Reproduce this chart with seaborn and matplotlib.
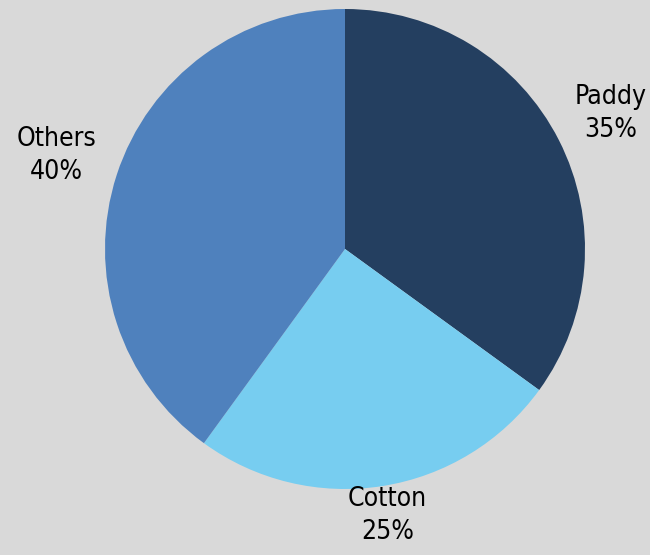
import numpy as np
import matplotlib
matplotlib.use("Agg")
import matplotlib.pyplot as plt
import seaborn as sns
from matplotlib import font_manager

# --- data ---
categories = ["Paddy", "Cotton", "Others"]
shares = [35, 25, 40]
colors = ["#243f60", "#77cdf0", "#4f81bd"]
label_dist = [1.24, 1.125, 1.265]

sns.set_theme(style="white")
names = {f.name for f in font_manager.fontManager.ttflist}
fam = ["Liberation Sans Narrow", "DejaVu Sans"] if "Liberation Sans Narrow" in names else ["DejaVu Sans"]
plt.rcParams["font.family"] = fam

bg = "#d9d9d9"
fig = plt.figure(figsize=(6.5, 5.55), dpi=100, facecolor=bg)
ax = fig.add_axes([0, 0, 1, 1])
ax.set_facecolor(bg)

labels = [f"{c}\n{v}%" for c, v in zip(categories, shares)]
wedges, texts = ax.pie(shares, colors=colors, startangle=90, counterclock=False,
                       labels=labels, labeldistance=1.0, radius=1.0,
                       wedgeprops=dict(linewidth=0),
                       textprops=dict(fontsize=19, color="black", ha="center",
                                      va="center", linespacing=1.35,
                                      fontstretch="condensed"))
for w, t, d in zip(wedges, texts, label_dist):
    ang = np.deg2rad((w.theta1 + w.theta2) / 2)
    t.set_position((d * np.cos(ang), d * np.sin(ang)))
    t.set_ha("center")

r_px = 240
cx, cy = 345, 249
ax.set_xlim(-cx / r_px, (650 - cx) / r_px)
ax.set_ylim(-(555 - cy) / r_px, cy / r_px)
ax.set_aspect("equal")
ax.axis("off")

fig.savefig("out.png", dpi=100, facecolor=bg)
